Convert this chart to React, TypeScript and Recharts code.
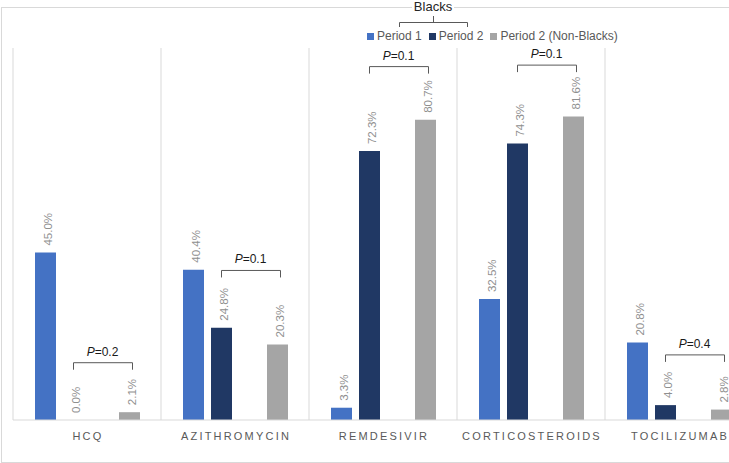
import { BarChart, Bar, XAxis, YAxis, CartesianGrid, Legend, LabelList } from 'recharts';

const categories = ['HCQ', 'AZITHROMYCIN', 'REMDESIVIR', 'CORTICOSTEROIDS', 'TOCILIZUMAB'];
const period1 = [45.0, 40.4, 3.3, 32.5, 20.8];
const period2 = [0.0, 24.8, 72.3, 74.3, 4.0];
const period2NonBlacks = [2.1, 20.3, 80.7, 81.6, 2.8];
// p-value bracket between Period 2 and Period 2 (Non-Blacks), level in % units
const pValues = ['0.2', '0.1', '0.1', '0.1', '0.4'];
const bracketLevels = [15.4, 40.2, 95.0, 95.4, 17.5];

const data = categories.map((name, i) => ({
  name,
  p1: period1[i],
  p2: period2[i],
  bracket: bracketLevels[i],
  p3: period2NonBlacks[i],
}));

const FONT = '"Liberation Sans", Arial, sans-serif';
const BAR_GAP = 7;

const ValueLabel = (props: any) => {
  const { x, y, width, height, value } = props;
  const cx = x + width / 2 + 2.5;
  // zero bars get a tiny min size, anchor them on the baseline
  const top = Math.abs(height) < 1 ? y + height : y;
  const ty = top - 7;
  return (
    <text
      x={cx}
      y={ty}
      transform={`rotate(-90, ${cx}, ${ty})`}
      textAnchor="start"
      dominantBaseline="central"
      fill="#8f8f8f"
      fontSize={11.5}
      fontFamily={FONT}
    >
      {Number(value).toFixed(1)}%
    </text>
  );
};

const BracketShape = (props: any) => {
  const { x, y, width, index } = props;
  const cx = x + width / 2;
  const left = cx - (width + BAR_GAP);
  const right = cx + (width + BAR_GAP) + 3;
  return (
    <g>
      <path
        d={`M${left},${y + 7} V${y} H${right} V${y + 7}`}
        stroke="#595959"
        strokeWidth={1}
        fill="none"
      />
      <text x={cx + 1} y={y - 7} textAnchor="middle" fontSize={12} fontFamily={FONT} fill="#1a1a1a">
        <tspan fontStyle="italic">P</tspan>={pValues[index]}
      </text>
    </g>
  );
};

const CategoryTick = (props: any) => {
  const { x, y, payload } = props;
  return (
    <text
      x={x + 1}
      y={y}
      dy={12}
      textAnchor="middle"
      fontSize={11}
      letterSpacing={2.2}
      fontFamily={FONT}
      fill="#595959"
    >
      {payload.value}
    </text>
  );
};

const LegendContent = (props: any) => {
  const items = (props.payload || []).filter((p: any) => p.type !== 'none');
  return (
    <div style={{ position: 'relative', width: 729, height: 48, fontFamily: FONT }}>
      <div
        style={{
          position: 'absolute',
          left: 383,
          width: 100,
          top: 0,
          textAlign: 'center',
          fontSize: 13,
          lineHeight: '14px',
          color: '#262626',
        }}
      >
        <span style={{ background: '#fff', padding: '0 2px' }}>Blacks</span>
      </div>
      <svg width={729} height={48} style={{ position: 'absolute', left: 0, top: 0 }}>
        <path d="M399.5,27 V22.5 H467.5 V27 M433.5,22.5 V16" stroke="#595959" fill="none" />
      </svg>
      <div
        style={{
          position: 'absolute',
          left: 367,
          top: 30,
          display: 'flex',
          alignItems: 'center',
          fontSize: 12,
          lineHeight: '12px',
          color: '#595959',
          whiteSpace: 'nowrap',
        }}
      >
        {items.map((entry: any) => (
          <span key={entry.value} style={{ display: 'flex', alignItems: 'center', marginRight: 7 }}>
            <span style={{ width: 7, height: 7, background: entry.color, marginRight: 3 }} />
            {entry.value}
          </span>
        ))}
      </div>
    </div>
  );
};

export default function App() {
  return (
    <div
      style={{
        position: 'fixed',
        left: 0,
        top: 0,
        width: 729,
        height: 463,
        overflow: 'hidden',
        background: '#fff',
      }}
    >
      <div
        style={{
          position: 'absolute',
          left: 1,
          top: 7,
          width: 800,
          height: 456,
          boxSizing: 'border-box',
          border: '1px solid #d9d9d9',
        }}
      />
      <div style={{ position: 'absolute', left: 0, top: 0 }}>
        <BarChart
          width={760}
          height={463}
          data={data}
          margin={{ top: 48, right: 7, left: 13, bottom: 13 }}
          barGap={BAR_GAP}
          barCategoryGap={22}
        >
          <CartesianGrid
            horizontal={false}
            stroke="#d9d9d9"
            verticalCoordinatesGenerator={({ offset }: any) =>
              [0, 1, 2, 3, 4, 5].map((i) => offset.left + (i * offset.width) / categories.length)
            }
          />
          <XAxis
            dataKey="name"
            height={30}
            axisLine={{ stroke: '#d9d9d9' }}
            tickLine={false}
            tick={<CategoryTick />}
            interval={0}
          />
          <YAxis hide domain={[0, 100]} />
          <Legend
            layout="horizontal"
            verticalAlign="middle"
            align="center"
            content={<LegendContent />}
            wrapperStyle={{ top: 0, left: 0, width: 729, height: 48 }}
          />
          <Bar dataKey="p1" name="Period 1" fill="#4472C4" isAnimationActive={false}>
            <LabelList dataKey="p1" content={<ValueLabel />} />
          </Bar>
          <Bar dataKey="p2" name="Period 2" fill="#203864" minPointSize={0.01} isAnimationActive={false}>
            <LabelList dataKey="p2" content={<ValueLabel />} />
          </Bar>
          <Bar
            dataKey="bracket"
            legendType="none"
            fill="none"
            shape={<BracketShape />}
            isAnimationActive={false}
          />
          <Bar dataKey="p3" name="Period 2 (Non-Blacks)" fill="#A5A5A5" isAnimationActive={false}>
            <LabelList dataKey="p3" content={<ValueLabel />} />
          </Bar>
        </BarChart>
      </div>
    </div>
  );
}
